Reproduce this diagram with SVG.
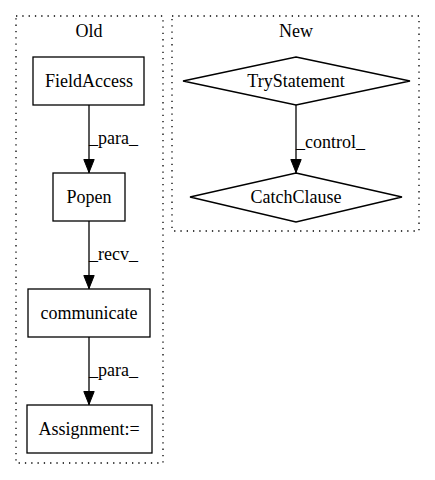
<svg xmlns="http://www.w3.org/2000/svg" width="435" height="480" viewBox="0 0 435 480">
<defs>
<style>
text{font-family:"Liberation Serif","Times New Roman",serif;font-size:18px;fill:#000}
.c{text-anchor:middle}
.cl{fill:none;stroke:#000;stroke-width:1.3;stroke-dasharray:1.3,5}
.n{fill:none;stroke:#000;stroke-width:1.3}
.e{stroke:#000;stroke-width:1.3;fill:none}
</style>
<marker id="a" markerWidth="14" markerHeight="12" viewBox="0 0 14 12" refX="14" refY="6" orient="auto" markerUnits="userSpaceOnUse">
<path d="M0.5,0.8 L13.5,6 L0.5,11.2 Z" fill="#000" stroke="#000" stroke-width="1"/>
</marker>
</defs>
<rect width="435" height="480" fill="#fff"/>
<g id="cluster_old">
<rect class="cl" x="16" y="16" width="147" height="447"/>
<text class="c" x="89" y="37">Old</text>
</g>
<g id="cluster_new">
<rect class="cl" x="172" y="16" width="247" height="215"/>
<text class="c" x="296" y="37">New</text>
</g>
<g id="FieldAccess">
<rect class="n" x="33" y="57" width="111" height="48"/>
<text class="c" x="89" y="87">FieldAccess</text>
</g>
<g id="Popen">
<rect class="n" x="53" y="173" width="72" height="48"/>
<text class="c" x="89" y="203">Popen</text>
</g>
<g id="communicate">
<rect class="n" x="28" y="289" width="122" height="48"/>
<text class="c" x="89" y="319">communicate</text>
</g>
<g id="Assignment">
<rect class="n" x="27" y="405" width="125" height="48"/>
<text class="c" x="89" y="435">Assignment:=</text>
</g>
<g id="TryStatement">
<polygon class="n" points="296,57 410,81 296,105 183,81"/>
<text class="c" x="296" y="87">TryStatement</text>
</g>
<g id="CatchClause">
<polygon class="n" points="296,173 402,197 296,222 190,197"/>
<text class="c" x="296" y="203">CatchClause</text>
</g>
<g id="edges">
<line class="e" x1="89" y1="105" x2="89" y2="173" marker-end="url(#a)"/>
<text x="89" y="144">_para_</text>
<line class="e" x1="89" y1="221" x2="89" y2="289" marker-end="url(#a)"/>
<text x="89" y="260">_recv_</text>
<line class="e" x1="89" y1="337" x2="89" y2="405" marker-end="url(#a)"/>
<text x="89" y="376">_para_</text>
<line class="e" x1="296" y1="105" x2="296" y2="173" marker-end="url(#a)"/>
<text x="296" y="148">_control_</text>
</g>
</svg>
